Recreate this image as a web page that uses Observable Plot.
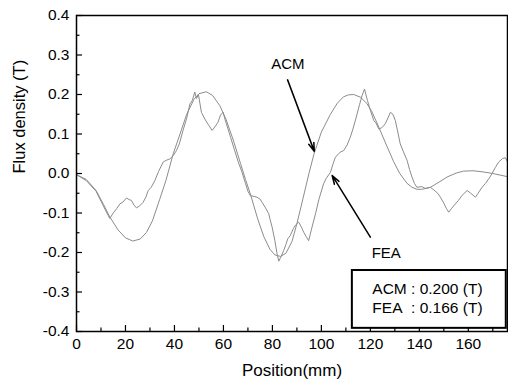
<!DOCTYPE html>
<html>
<head>
<meta charset="utf-8">
<script src="https://cdn.jsdelivr.net/npm/d3@7"></script>
<script src="https://cdn.jsdelivr.net/npm/@observablehq/plot@0.6"></script>
<style>
  html, body { margin: 0; padding: 0; background: #fff; }
  svg { display: block; }
</style>
</head>
<body>
<div id="chart"></div>
<script>
// ---- data ----
const acmX = [0, 4, 8, 11, 13.6, 17, 20, 23, 26, 28.6, 31, 34, 36.5, 39.5, 42, 45, 48, 50, 53, 55.5, 58.5, 61, 64, 67, 69, 71, 74, 76.5, 79, 81, 83.3, 85.5, 88, 90, 92.5, 95, 97, 100, 103.7, 106.5, 109, 111, 113.2, 116, 118.6, 120.5, 122.7, 126, 129.5, 132, 135, 137, 139, 141, 144.5, 148, 151.3, 155, 158, 162, 166, 170, 173, 176];
const acmB = [-0.003, -0.015, -0.043, -0.078, -0.110, -0.143, -0.163, -0.171, -0.166, -0.149, -0.120, -0.065, -0.018, 0.050, 0.095, 0.150, 0.188, 0.202, 0.207, 0.198, 0.172, 0.138, 0.085, 0.025, -0.015, -0.052, -0.115, -0.160, -0.192, -0.206, -0.210, -0.202, -0.172, -0.127, -0.063, 0.002, 0.050, 0.105, 0.150, 0.178, 0.194, 0.199, 0.200, 0.193, 0.177, 0.158, 0.128, 0.080, 0.030, 0.000, -0.025, -0.035, -0.040, -0.040, -0.035, -0.022, -0.009, 0.001, 0.006, 0.007, 0.004, 0.000, -0.004, -0.008];

const feaX = [0, 4, 8, 10, 12, 13.6, 15, 16.5, 17.7, 19, 20.4, 21.5, 22.4, 23.5, 24.5, 25.8, 27.2, 28.3, 29.3, 30.5, 32, 33.5, 35.4, 36.5, 38.1, 39.5, 40.8, 42, 43.5, 45, 46.3, 47.3, 48.3, 49, 49.8, 51, 52.4, 54, 55.4, 56.5, 57.8, 58.8, 59.9, 60.5, 61.5, 62.9, 64.5, 66, 67.5, 69, 70, 71, 72.5, 73.7, 75, 75.8, 77, 78.5, 79.2, 79.9, 81, 81.9, 82.6, 83.4, 84.6, 85.5, 86.3, 87.3, 88.5, 89.5, 90.7, 91.8, 92.8, 93.8, 94.8, 96, 97.6, 99, 100.9, 102, 103.7, 104.8, 105.7, 107, 108, 109.1, 110.5, 111.8, 113, 114.6, 115.6, 116.6, 117.6, 118.8, 120, 121.4, 122.3, 123.4, 124.5, 125.3, 126.1, 127, 128.2, 129.2, 130.2, 131.2, 132.2, 133.5, 135, 136, 137, 138, 139, 141, 142.5, 144.5, 146, 147.5, 148.6, 150, 151, 152, 153.2, 154.7, 156, 157.5, 159.5, 161, 162.9, 164, 165.6, 167, 168.5, 169.7, 171, 172.4, 174, 175.1, 176];
const feaB = [-0.003, -0.018, -0.045, -0.070, -0.095, -0.114, -0.100, -0.088, -0.077, -0.072, -0.062, -0.066, -0.068, -0.080, -0.087, -0.082, -0.073, -0.060, -0.043, -0.035, -0.018, 0.005, 0.029, 0.033, 0.037, 0.045, 0.058, 0.075, 0.109, 0.140, 0.176, 0.185, 0.206, 0.190, 0.200, 0.155, 0.138, 0.122, 0.109, 0.118, 0.130, 0.148, 0.155, 0.140, 0.120, 0.092, 0.060, 0.030, 0.005, -0.025, -0.045, -0.056, -0.058, -0.060, -0.065, -0.073, -0.085, -0.102, -0.120, -0.136, -0.170, -0.203, -0.222, -0.212, -0.195, -0.180, -0.165, -0.157, -0.140, -0.130, -0.123, -0.135, -0.149, -0.160, -0.170, -0.140, -0.102, -0.065, -0.026, -0.012, 0.003, 0.025, 0.041, 0.050, 0.055, 0.058, 0.072, 0.092, 0.115, 0.151, 0.175, 0.197, 0.214, 0.185, 0.160, 0.134, 0.128, 0.113, 0.115, 0.120, 0.126, 0.138, 0.155, 0.150, 0.134, 0.105, 0.075, 0.055, 0.033, 0.010, -0.009, -0.025, -0.035, -0.033, -0.038, -0.035, -0.042, -0.050, -0.060, -0.075, -0.088, -0.098, -0.088, -0.077, -0.068, -0.055, -0.043, -0.050, -0.060, -0.050, -0.035, -0.025, -0.012, 0.000, 0.015, 0.029, 0.038, 0.040, 0.030];

const xMajor = [0, 20, 40, 60, 80, 100, 120, 140, 160];
const xMinor = [10, 30, 50, 70, 90, 110, 130, 150, 170];
const yMajor = [-0.4, -0.3, -0.2, -0.1, 0.0, 0.1, 0.2, 0.3, 0.4];
const yMinor = [-0.35, -0.25, -0.15, -0.05, 0.05, 0.15, 0.25, 0.35];
const yTickLabels = ["-0.4", "-0.3", "-0.2", "-0.1", "0.0", "0.1", "0.2", "0.3", "0.4"];

const xTitle = "Position(mm)";
const yTitle = "Flux density (T)";

// annotations (data units)
const labelNames = ["ACM", "FEA"];
const labelX = [86.3, 126.5];
const labelY = [0.277, -0.203];
const arrowFromX = [86.2, 120.0];
const arrowFromY = [0.237, -0.161];
const arrowToX = [97.1, 104.4];
const arrowToY = [0.056, -0.005];

const legendLines = ["ACM : 0.200 (T)", "FEA\u00a0 : 0.166 (T)"];
const legendTextX = [120.8, 120.8];
const legendTextY = [-0.2937, -0.3405];
const legendBox = {x1: 112.65, x2: 175.5, y1: -0.2456, y2: -0.392};

// ---- build tables ----
const acm = acmX.map((x, i) => ({x, y: acmB[i]}));
const fea = feaX.map((x, i) => ({x, y: feaB[i]}));
const labels = labelNames.map((t, i) => ({t, x: labelX[i], y: labelY[i]}));
const arrows = arrowFromX.map((x1, i) => ({x1, y1: arrowFromY[i], x2: arrowToX[i], y2: arrowToY[i]}));
const legend = legendLines.map((t, i) => ({t, x: legendTextX[i], y: legendTextY[i]}));

const W = 508, H = 389, mL = 76, mR = 1, mT = 15, mB = 58;
const innerW = W - mL - mR, innerH = H - mT - mB;
const font = "'Liberation Sans', Arial, sans-serif";
const lineColor = "#8c8c8c";

const chart = Plot.plot({
  width: W,
  height: H,
  marginLeft: mL,
  marginRight: mR,
  marginTop: mT,
  marginBottom: mB,
  style: {fontFamily: font, background: "#fff", color: "#000"},
  x: {domain: [0, 176]},
  y: {domain: [-0.4, 0.4]},
  marks: [
    Plot.line(acm, {x: "x", y: "y", stroke: lineColor, strokeWidth: 1}),
    Plot.line(fea, {x: "x", y: "y", stroke: lineColor, strokeWidth: 1}),
    // inward ticks
    Plot.tickX(xMajor, {x: d => d, insetTop: innerH - 6, stroke: "#000", strokeWidth: 1.2}),
    Plot.tickX(xMinor, {x: d => d, insetTop: innerH - 3.5, stroke: "#000", strokeWidth: 1.2}),
    Plot.tickY(yMajor, {y: d => d, insetRight: innerW - 6, stroke: "#000", strokeWidth: 1.2}),
    Plot.tickY(yMinor, {y: d => d, insetRight: innerW - 3.5, stroke: "#000", strokeWidth: 1.2}),
    Plot.axisX({ticks: xMajor, tickSize: 0, tickPadding: 6, fontSize: 15.5, label: null, fill: "#000"}),
    Plot.axisY({ticks: yMajor, tickSize: 0, tickPadding: 7, fontSize: 15.5, label: null, fill: "#000",
                tickFormat: d => yTickLabels[yMajor.findIndex(v => Math.abs(v - d) < 1e-9)]}),
    Plot.frame({stroke: "#000", strokeWidth: 1.5}),
    // titles
    Plot.text([xTitle], {frameAnchor: "bottom", dy: 44, fontSize: 17, fill: "#000"}),
    Plot.text([yTitle], {frameAnchor: "left", dx: -57, rotate: -90, fontSize: 16.5, fill: "#000"}),
    // annotations
    Plot.text(labels, {x: "x", y: "y", text: "t", fontSize: 15, fill: "#000"}),
    Plot.arrow(arrows, {x1: "x1", y1: "y1", x2: "x2", y2: "y2", stroke: "#000", strokeWidth: 1.5, headLength: 9, headAngle: 35}),
    // legend box
    Plot.rect([legendBox], {x1: "x1", x2: "x2", y1: "y1", y2: "y2", fill: "#fff", stroke: "#000", strokeWidth: 2}),
    Plot.text(legend, {x: "x", y: "y", text: "t", textAnchor: "start", fontSize: 15.5, fill: "#000"})
  ]
});

document.getElementById("chart").appendChild(chart);
</script>
</body>
</html>
